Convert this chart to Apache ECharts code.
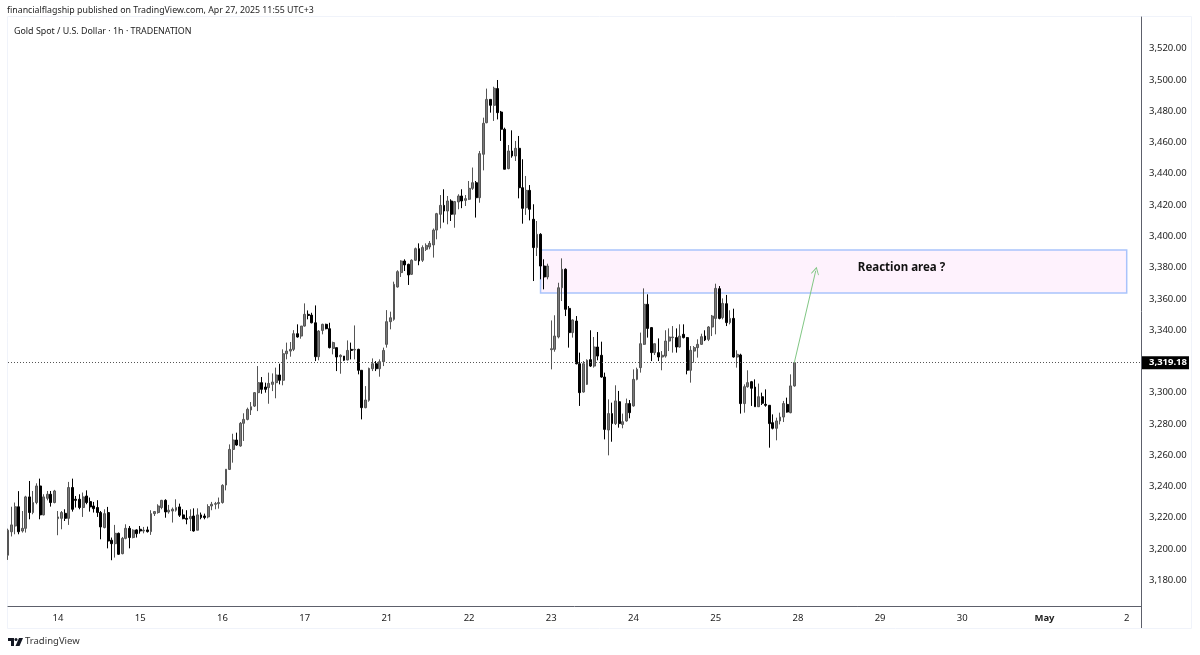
<!DOCTYPE html>
<html>
<head>
<meta charset="utf-8">
<style>
  html, body { margin: 0; padding: 0; background: #fff; }
  #main { width: 1200px; height: 655px; }
</style>
<script src="https://cdn.jsdelivr.net/npm/echarts@6/dist/echarts.min.js"></script>
</head>
<body>
<div id="main"></div>
<script>
var dayLabels = ['14', '15', '16', '17', '21', '22', '23', '24', '25', '28', '29', '30', 'May', '2'];
var priceTicks = [3180, 3200, 3220, 3240, 3260, 3280, 3300, 3320, 3340, 3360, 3380, 3400, 3420, 3440, 3460, 3480, 3500, 3520];
var lastPrice = 3319.18;
var zoneTop = 3391.2;
var zoneBottom = 3363.7;
var arrowEnd = 3378;

// open, close, low, high (hourly)
var candles = [
  [3196,3212,3193,3213],[3211,3215.4,3208,3227],[3214.7,3227,3209.4,3229.7],[3227,3211,3209.4,3237],
  [3211.5,3213.2,3210.5,3224.3],[3213.2,3233.3,3210.5,3234],[3233.3,3223.3,3219,3243.5],[3223.3,3229.7,3222.2,3237.1],
  [3229.7,3240.3,3228.6,3242],[3240.3,3221.8,3219,3245],[3221.8,3233.3,3221.5,3235],[3232.4,3235,3231.1,3237.1],
  [3235,3229.7,3227.1,3237.1],[3229.7,3237.1,3229.2,3237.8],[3219.4,3220.5,3208.8,3224.3],[3219.6,3223.3,3212.6,3224.3],
  [3222.8,3219.6,3217.9,3225.4],[3219.6,3239.3,3215.4,3242.9],[3239.3,3225.4,3223.9,3245],[3231.8,3231.1,3226.5,3233.9],
  [3231.8,3226.5,3225.4,3235],[3226.5,3233.3,3220.5,3236.1],[3233.9,3229.7,3228.6,3237.5],[3230.3,3226.9,3223.9,3232.9],
  [3227.5,3225.8,3223.3,3230.1],[3226.5,3223.3,3220.5,3231.2],[3223.3,3214.1,3206.2,3224.3],[3213.7,3222.6,3213.2,3225.4],
  [3223.3,3205.1,3200.4,3226.9],[3205.6,3203.4,3192.8,3207.3],[3203.4,3210,3194.5,3215.4],[3210,3196.6,3196.2,3210.5],
  [3197,3206.8,3196.6,3207.7],[3206.8,3213.2,3206.2,3215.8],[3213.2,3207.3,3200.4,3214.7],[3207.3,3212,3206.8,3212.6],
  [3212.2,3209.8,3207.3,3212.6],[3212.6,3211.5,3209.8,3214.7],[3211.5,3212,3210,3214.1],[3212.2,3211.1,3210.5,3214.3],
  [3211.1,3222.6,3209,3224.8],[3222.6,3223.9,3221.1,3224.3],[3223.3,3227.5,3222.6,3228.6],[3226.5,3231.1,3225.4,3231.4],
  [3231.1,3223.7,3220,3231.8],[3223.7,3224.8,3222.6,3228.2],[3224.3,3225.4,3216.9,3226.5],[3224.8,3226.5,3223.9,3231.8],
  [3226.9,3221.6,3220.5,3229],[3221.8,3219.4,3219,3225.4],[3219.6,3219,3215.8,3224.8],[3219.4,3220.7,3211.5,3225.4],
  [3221.1,3211.5,3211.1,3226],[3212,3221.8,3212,3226],[3221.8,3220.1,3219,3223.3],[3221.1,3220.1,3219,3222.6],
  [3220.5,3227.1,3219.6,3228.6],[3227.5,3228.6,3224.8,3230.1],[3228.6,3229,3225.4,3230.1],[3229,3229.7,3225.8,3232.9],
  [3229.7,3240.7,3229,3241.4],[3240.9,3251,3237.5,3251],[3250.9,3263.7,3250.5,3266.9],[3263.7,3269.7,3255.2,3273.7],
  [3269.7,3266.5,3266,3274.4],[3265.9,3280.4,3265.4,3281.2],[3280.4,3282.9,3269.1,3286.8],[3282.9,3289.3,3282.3,3290.4],
  [3288.9,3291,3285.7,3294],[3291.4,3300,3290.8,3300.4],[3300,3306.4,3288.2,3317],[3306.4,3302.1,3299.3,3310],
  [3303.6,3302.1,3300,3306.4],[3303.2,3305.9,3292.9,3312.8],[3305.3,3306.8,3301,3312.3],[3306.4,3311.3,3296.4,3316],
  [3311.3,3307.9,3305.3,3318.5],[3307.9,3324.9,3304.7,3327.7],[3324.9,3326.6,3321.3,3332],[3326.6,3327.7,3323,3332.4],
  [3327.7,3337.7,3326.6,3340],[3337.7,3335.6,3335.2,3343.7],[3336.2,3342.6,3334.5,3342.6],[3342.6,3350.1,3342.2,3357.1],
  [3350.1,3349.4,3346.9,3352.6],[3349.6,3344.7,3344.3,3351.1],[3344.7,3323,3320.2,3355.8],[3323,3339.4,3320.7,3340],
  [3339.8,3343.7,3337.3,3344.1],[3343.7,3340.9,3340.5,3344.1],[3340.9,3328.8,3328.3,3344.7],[3328.3,3332,3324.5,3332.6],
  [3328.8,3322.8,3313.8,3328.8],[3323,3323.9,3312.1,3324.5],[3323.4,3320.7,3320.2,3323.4],[3320.9,3327,3320.7,3333.4],
  [3327.7,3327,3321.3,3332],[3327.3,3327.7,3321.3,3343],[3327.7,3314.3,3311.7,3328.1],[3314.3,3290.4,3282.9,3314.3],
  [3290.4,3295.3,3290,3304.2],[3295.1,3315.5,3294.2,3316],[3315.3,3318.5,3313.8,3321.9],[3318.5,3315.3,3313.8,3320.2],
  [3315.3,3319.8,3310.2,3321.3],[3319.8,3327,3317,3328.8],[3330.9,3345.4,3328.8,3352.8],[3345.4,3347.9,3340.5,3351.8],
  [3346.9,3369.3,3346,3371],[3367.6,3377.4,3367.2,3378.3],[3376.8,3384.2,3374,3384.7],[3384.2,3381.7,3377.8,3385.3],
  [3382.1,3375.3,3368.9,3382.5],[3375.7,3384.7,3375.3,3385.3],[3384.7,3392.1,3384.2,3392.8],[3392.1,3384.2,3381.5,3395.5],
  [3384.7,3392.8,3383.6,3394.2],[3391.7,3394.2,3390.6,3395.5],[3393.2,3395.5,3391.7,3397],[3394.5,3404,3386.4,3405],
  [3404,3414.5,3398.1,3415],[3414.1,3419.8,3405.1,3426.4],[3419.8,3416.2,3408.8,3430.1],[3416.2,3422.6,3407.7,3425.8],
  [3422.6,3414.1,3409.8,3423.7],[3414.1,3422.2,3405.5,3422.6],[3422,3425.8,3417.3,3426.9],[3425.8,3422.6,3418,3430.1],
  [3423,3424.1,3419.4,3426.4],[3423.7,3430.7,3423.2,3435.4],[3430.7,3434.3,3429.7,3444],[3434.3,3424.7,3412,3435.4],
  [3424.7,3452.9,3421.5,3454.6],[3452.5,3472.3,3442.2,3475.9],[3472.7,3487.6,3472.3,3494.5],[3487.6,3483.8,3479.1,3487.6],
  [3483.8,3494.7,3473.8,3495.7],[3494.5,3479.1,3474.8,3500],[3479.5,3468.5,3461,3480.2],[3468.5,3442.9,3442.9,3469.5],
  [3443.3,3454.6,3442.9,3458.4],[3454.6,3451.4,3450.3,3467.8],[3451.4,3456.3,3448.2,3461],[3456.3,3431.1,3424.3,3464.2],
  [3431.1,3417.9,3408.1,3449.3],[3418.3,3429.4,3413.7,3438.6],[3429.4,3417.3,3410.2,3432.8],[3410.9,3392.8,3371.4,3420.5],
  [3392.8,3401.3,3387.4,3409.8],[3401.3,3381,3372.5,3402],[3381,3374,3366.1,3385.3],[3374,3381,3372.5,3382.5],
  [3327.5,3328.1,3314.9,3346.2],[3327.7,3336.2,3326.2,3349.5],[3335.6,3367.1,3334.7,3370.3],[3367.1,3378.9,3358.6,3385.9],
  [3378.9,3353.3,3349,3379.5],[3353.9,3338.4,3328.8,3355.4],[3338.4,3346.5,3335.2,3346.9],[3345.8,3318.5,3318.1,3349],
  [3318.5,3300,3291.5,3325.6],[3300.4,3318.5,3300,3320.2],[3305.3,3320.7,3304.9,3321.3],[3321.1,3317,3316.4,3339.9],
  [3317,3329.2,3316,3335.6],[3329.2,3323.4,3320.7,3338.8],[3323.9,3310,3309.6,3332.6],[3310,3276.5,3270.1,3312.8],
  [3276.1,3286.6,3259.9,3295.7],[3286.6,3280.2,3268.6,3293.6],[3280.2,3294.7,3279.3,3304.7],[3294.2,3280.2,3277.6,3301.1],
  [3279.7,3281.4,3277.2,3286.6],[3281.9,3293,3281.4,3296.2],[3293,3287.2,3283.6,3295.3],[3291.5,3308.5,3291,3314.9],
  [3308.5,3314.9,3307.9,3316],[3316,3331.3,3312.8,3338.4],[3330.9,3356.5,3330.5,3366.7],[3356.5,3341.1,3335.2,3362.9],
  [3341.6,3325.6,3320.2,3342],[3325.6,3331.3,3324.1,3331.3],[3325.6,3322.8,3320.2,3334.7],[3322.8,3323.9,3314.3,3326.6],
  [3323.4,3333,3322.4,3339.9],[3333,3335.6,3326.6,3341.1],[3335.2,3335.6,3325.6,3342.6],[3335.2,3329.2,3325.6,3341.1],
  [3329.2,3336.2,3328.8,3343.7],[3337.3,3335.2,3334.7,3343.7],[3335.2,3314.3,3311.7,3335.6],[3314.3,3327.1,3306.4,3329.8],
  [3326.6,3328.8,3319.2,3329.8],[3328.8,3330.9,3322.4,3334.1],[3330.9,3335.8,3330.5,3337.7],[3336.2,3333.7,3333,3339.9],
  [3334.1,3342,3333,3342.6],[3342,3349,3336.2,3349.7],[3347.5,3366.7,3337.3,3369.7],[3366.5,3347.5,3346.9,3368.2],
  [3348,3357.1,3346.9,3360.3],[3356.9,3344.8,3342.6,3362.5],[3344.8,3347.5,3343.7,3352.7],[3347.5,3322.8,3322.4,3353.7],
  [3322.8,3324.5,3316,3327.1],[3324.1,3293,3286.6,3324.9],[3293,3303.8,3287.2,3305.3],[3303.8,3306.4,3303.2,3314.3],
  [3307,3302.8,3291.5,3307.5],[3303.6,3291,3291,3308.5],[3291,3297.4,3290.8,3305.8],[3297.4,3293.2,3292.1,3300],
  [3292.5,3291.9,3291,3302.1],[3291.9,3280.2,3264.8,3292.1],[3280.8,3277.2,3276.5,3286.1],[3277.2,3281.9,3269.5,3284],
  [3281.9,3284.4,3279.7,3287.2],[3284.4,3293,3281.2,3294.7],[3292.5,3287.6,3287.2,3296.8],[3287.2,3304.3,3286.8,3311.7],
  [3304.3,3319.18,3303.8,3319.18]
];

// one slot per trading hour, a session is 23 bars, first date tick on bar 14
var categories = [];
for (var i = 0; i < 318; i++) {
  var d = (i - 14) / 23;
  categories.push(d >= 0 && d === Math.floor(d) && dayLabels[d] ? dayLabels[d] : '');
}

function money(v) {
  return v.toLocaleString('en-US', { minimumFractionDigits: 2, maximumFractionDigits: 2 });
}

var FONT = '"Noto Sans", sans-serif';
var chevron = 'path://M0 0L6 10L5 10.8L0 2.6L-5 10.8L-6 10Z';

var option = {
  animation: false,
  backgroundColor: '#fff',
  title: [
    {
      text: 'financialflagship published on TradingView.com, Apr 27, 2025 11:55 UTC+3',
      left: 2, top: 1,
      textStyle: { fontFamily: FONT, fontSize: 8.8, fontWeight: 'normal', color: '#222' }
    },
    {
      text: 'Gold Spot / U.S. Dollar · 1h · TRADENATION',
      left: 9, top: 21.5,
      textStyle: { fontFamily: FONT, fontSize: 8.9, fontWeight: 'normal', color: '#222' }
    }
  ],
  grid: { left: 8, right: 59, top: 17, bottom: 49 },
  xAxis: {
    type: 'category',
    data: categories,
    boundaryGap: false,
    axisLine: { lineStyle: { color: '#5d606b', width: 1 } },
    axisTick: { show: false },
    splitLine: { show: false },
    axisLabel: {
      interval: function (idx, val) { return val !== ''; },
      margin: 7,
      fontFamily: FONT, fontSize: 9.5, color: '#222',
      formatter: function (val) { return val === 'May' ? '{b|May}' : val; },
      rich: { b: { fontFamily: FONT, fontSize: 9.5, fontWeight: 'bold', color: '#222' } }
    }
  },
  yAxis: {
    type: 'value',
    position: 'right',
    min: 3163.52,
    max: 3540.3,
    axisLine: { show: true, lineStyle: { color: '#5d606b', width: 1 } },
    axisTick: { show: false },
    splitLine: { show: false },
    axisLabel: {
      customValues: priceTicks,
      margin: 8,
      fontFamily: FONT, fontSize: 9.5, color: '#222',
      formatter: money
    }
  },
  series: [
    {
      type: 'candlestick',
      data: candles,
      barWidth: 2.4,
      itemStyle: {
        color: '#7a7a7a', borderColor: '#555',
        color0: '#000', borderColor0: '#000',
        borderWidth: 1
      },
      markArea: {
        silent: true,
        z: 1,
        itemStyle: { color: '#fef2fd', borderColor: '#a9c3fb', borderWidth: 1.5 },
        data: [[{ xAxis: 149, yAxis: zoneTop }, { xAxis: 313, yAxis: zoneBottom }]]
      },
      markPoint: {
        silent: true,
        symbol: 'circle',
        symbolSize: 0,
        label: {
          show: true, position: 'inside',
          fontFamily: FONT, fontSize: 11.5, fontWeight: 'bold', color: '#111',
          formatter: 'Reaction area ?'
        },
        data: [{ coord: [250, 3380] }]
      },
      markLine: {
        silent: true,
        symbol: ['none', 'none'],
        precision: 2,
        data: [
          {
            yAxis: lastPrice,
            lineStyle: { color: '#555', type: [1, 2], width: 1 },
            label: {
              show: true, position: 'end', distance: 1,
              backgroundColor: '#000', color: '#fff', padding: [2, 2, 1, 7],
              fontFamily: FONT, fontSize: 9.5, fontWeight: 'bold',
              formatter: function () { return money(lastPrice); }
            }
          },
          [
            {
              coord: [220, lastPrice], symbol: 'none',
              lineStyle: { color: '#81c784', type: 'solid', width: 1 },
              label: { show: false }
            },
            { coord: [226, arrowEnd], symbol: chevron, symbolSize: 8 }
          ]
        ]
      }
    }
  ],
  graphic: [
    { type: 'rect', silent: true, z: -1, shape: { x: 7.5, y: 16.5, width: 1184, height: 612 }, style: { fill: 'none', stroke: '#f0f3fa', lineWidth: 1 } },
    { type: 'line', silent: true, shape: { x1: 1141.5, y1: 606, x2: 1141.5, y2: 628 }, style: { stroke: '#5d606b', lineWidth: 1 } },
    { type: 'polygon', silent: true, shape: { points: [[8, 638], [14, 638], [14, 646], [11, 646], [11, 641], [8, 641]] }, style: { fill: '#131722' } },
    { type: 'circle', silent: true, shape: { cx: 16, cy: 639.5, r: 1.5 }, style: { fill: '#131722' } },
    { type: 'polygon', silent: true, shape: { points: [[19, 638], [23, 638], [19.5, 646], [15.5, 646]] }, style: { fill: '#131722' } },
    { type: 'text', silent: true, style: { x: 25, y: 636.5, text: 'TradingView', fontFamily: FONT, fontSize: 9.5, fill: '#333' } }
  ]
};

var myChart = echarts.init(document.getElementById('main'));
myChart.setOption(option);
</script>
</body>
</html>
